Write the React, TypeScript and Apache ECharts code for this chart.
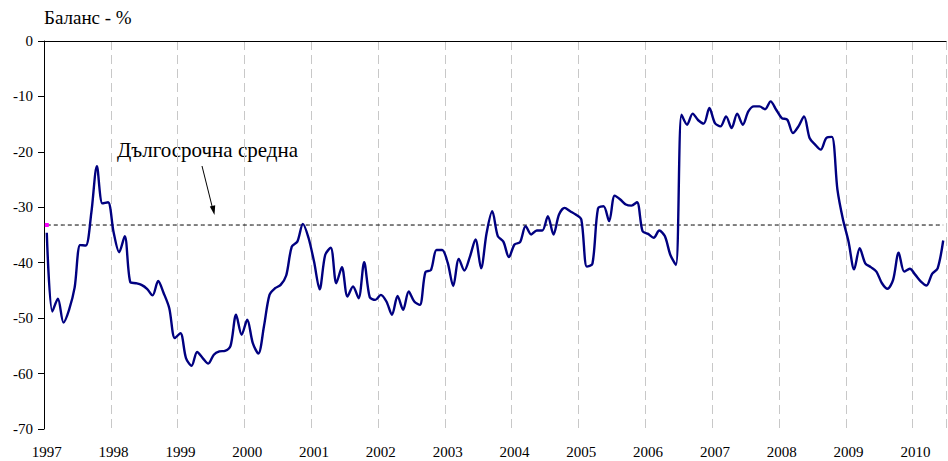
import React, { useEffect, useRef } from "react";
import * as echarts from "echarts";

const startYear = 1997;
const monthCount = 162;
const months: string[] = Array.from({ length: monthCount }, (_, i) => {
  const y = startYear + Math.floor(i / 12);
  const m = (i % 12) + 1;
  return `${y}-${m < 10 ? "0" + m : m}`;
});

const balance: number[] = [
  -34.6, -48.8, -46.5, -50.8, -48.5, -44.5, -36.8, -36.9, -31.0, -22.6, -29.3, -29.1,
  -34.5, -38.1, -35.2, -43.5, -43.7, -44.0, -44.7, -45.9, -43.3, -45.5, -48.2, -53.6,
  -52.7, -57.2, -58.6, -56.1, -57.2, -58.2, -56.6, -56.0, -55.9, -55.0, -49.4, -53.0,
  -50.3, -54.5, -56.4, -51.5, -45.8, -44.6, -44.0, -42.3, -37.1, -36.2, -33.0, -35.5,
  -39.8, -44.8, -38.6, -37.3, -43.7, -40.8, -46.1, -44.3, -46.4, -39.9, -46.2, -46.7,
  -45.8, -47.0, -49.4, -46.0, -48.5, -45.2, -47.0, -47.6, -41.7, -41.3, -37.7, -37.7,
  -40.0, -44.2, -39.3, -41.4, -38.9, -35.8, -41.0, -34.6, -30.7, -35.2, -36.2, -39.0,
  -36.7, -36.3, -33.4, -34.9, -34.2, -34.2, -31.6, -34.9, -31.3, -30.1, -30.7, -31.3,
  -32.2, -40.7, -40.2, -30.2, -29.8, -32.5, -27.9, -28.6, -29.5, -29.7, -29.1, -34.3,
  -34.8, -35.5, -34.2, -35.2, -38.6, -40.4, -13.3, -15.1, -13.1, -14.3, -14.9, -12.1,
  -14.8, -15.4, -13.6, -15.7, -13.1, -15.1, -12.7, -11.8, -11.8, -12.3, -10.9, -12.4,
  -13.9, -14.2, -16.6, -15.4, -13.6, -17.5, -18.7, -19.6, -17.5, -17.3, -26.8, -32.2,
  -36.2, -41.2, -37.4, -40.1, -40.8, -41.6, -43.7, -44.7, -43.1, -38.2, -41.6, -41.1,
  -42.2, -43.4, -44.1, -42.0, -41.0, -36.0,
];

const longTermAverage = -33.2;
const averageLine: number[] = months.map(() => longTermAverage);

const yTicks = { min: -70, max: 0, interval: 10 };
const titleText = "Баланс - %";
const annotationText = "Дългосрочна средна";

const FONT = "Liberation Serif";

export default function App() {
  const ref = useRef<HTMLDivElement>(null);
  useEffect(() => {
    if (!ref.current) return;
    const chart = echarts.init(ref.current, null, { renderer: "svg" });
    const yearTick = (idx: number) => idx % 12 === 0;
    chart.setOption({
      animation: false,
      backgroundColor: "#ffffff",
      textStyle: { fontFamily: FONT },
      grid: { left: 44, right: 2, top: 41, bottom: 32, containLabel: false },
      xAxis: [
        {
          type: "category",
          data: months,
          boundaryGap: true,
          position: "bottom",
          axisLine: { show: true, lineStyle: { color: "#a0a0a0", width: 1 } },
          axisTick: { show: false },
          axisLabel: {
            interval: (idx: number) => yearTick(idx),
            formatter: (v: string) => v.slice(0, 4),
            fontFamily: FONT,
            fontSize: 15,
            color: "#000",
            margin: 15,
          },
          splitLine: {
            show: true,
            interval: (idx: number) => yearTick(idx),
            lineStyle: { color: "#c8c8c8", type: [9, 5], width: 1 },
          },
        },
        {
          type: "category",
          data: months,
          position: "top",
          axisLine: { show: true, lineStyle: { color: "#000", width: 1 } },
          axisTick: { show: false },
          axisLabel: { show: false },
          splitLine: { show: false },
        },
      ],
      yAxis: {
        type: "value",
        min: yTicks.min,
        max: yTicks.max,
        interval: yTicks.interval,
        axisLine: { show: true, lineStyle: { color: "#000", width: 1 } },
        axisTick: { show: true, inside: false, length: 6, lineStyle: { color: "#000" } },
        axisLabel: {
          fontFamily: FONT,
          fontSize: 15,
          color: "#000",
          margin: 11,
        },
        splitLine: { show: false },
      },
      series: [
        {
          type: "line",
          name: "avg",
          data: averageLine.map((v, i) =>
            i === 0
              ? { value: v, symbol: "rect", symbolSize: 4, itemStyle: { color: "#ff00ff" } }
              : { value: v, symbol: "none" }
          ),
          showSymbol: true,
          lineStyle: { color: "#000", width: 1, type: [4, 3] },
          itemStyle: { color: "#ff00ff" },
          z: 2,
          silent: true,
        },
        {
          type: "line",
          name: "balance",
          data: balance,
          showSymbol: false,
          symbol: "none",
          smooth: 0.3,
          lineStyle: { color: "#000080", width: 2.4 },
          z: 3,
          silent: true,
        },
      ],
      graphic: [
        {
          type: "text",
          left: 44,
          top: 8,
          style: { text: titleText, fontFamily: FONT, fontSize: 19, fill: "#000" },
        },
        {
          type: "text",
          x: 117,
          y: 150,
          style: {
            text: annotationText,
            fontFamily: FONT,
            fontSize: 21,
            fill: "#000",
            verticalAlign: "middle",
          },
        },
        {
          type: "line",
          shape: { x1: 202, y1: 166, x2: 213, y2: 210 },
          style: { stroke: "#000", lineWidth: 1 },
        },
        {
          type: "polygon",
          shape: { points: [[214.5, 215], [209.8, 206.5], [215.2, 205.2]] },
          style: { fill: "#000" },
        },
      ],
    });
    return () => chart.dispose();
  }, []);
  return (
    <div
      ref={ref}
      style={{ position: "fixed", left: 0, top: 0, width: 948, height: 461 }}
    />
  );
}
